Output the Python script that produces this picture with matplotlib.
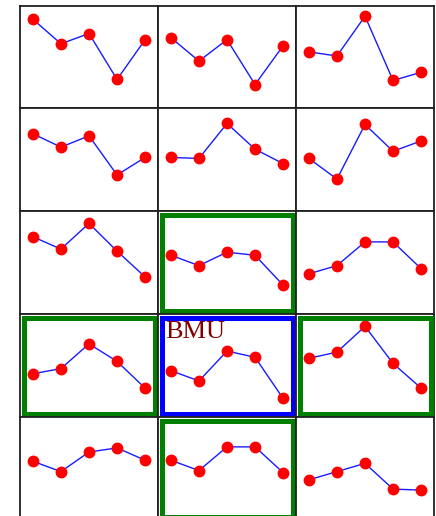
import matplotlib
matplotlib.use("Agg")
import matplotlib.pyplot as plt
from matplotlib.patches import Rectangle

# weight vectors of the 3x5 map nodes, row by row
row0 = [[0.87, 0.63, 0.73, 0.28, 0.67],
        [0.69, 0.46, 0.67, 0.23, 0.61],
        [0.55, 0.51, 0.90, 0.27, 0.35]]
row1 = [[0.75, 0.62, 0.73, 0.35, 0.52],
        [0.52, 0.51, 0.85, 0.60, 0.46],
        [0.51, 0.31, 0.84, 0.58, 0.68]]
row2 = [[0.75, 0.63, 0.88, 0.61, 0.36],
        [0.57, 0.47, 0.60, 0.57, 0.28],
        [0.39, 0.47, 0.70, 0.70, 0.44]]
row3 = [[0.42, 0.47, 0.71, 0.54, 0.28],
        [0.45, 0.35, 0.64, 0.58, 0.18],
        [0.57, 0.63, 0.88, 0.52, 0.28]]
row4 = [[0.57, 0.47, 0.66, 0.70, 0.58],
        [0.58, 0.48, 0.71, 0.71, 0.46],
        [0.39, 0.47, 0.55, 0.30, 0.29]]
nodes = [row0, row1, row2, row3, row4]

bmu = (3, 1)
neighbours = [(2, 1), (3, 0), (3, 2), (4, 1)]

W, H = 436, 516
col_left = [20, 158, 296, 434]
row_top = [6, 108, 211, 314, 417, 520]

fig = plt.figure(figsize=(W / 100, H / 100), dpi=100)

for r in range(5):
    for c in range(3):
        x0, x1 = col_left[c], col_left[c + 1]
        y0, y1 = row_top[r], row_top[r + 1]
        ax = fig.add_axes([x0 / W, 1 - y1 / H, (x1 - x0) / W, (y1 - y0) / H])
        vals = nodes[r][c]
        ax.plot(range(len(vals)), vals, color="#1a1aff", lw=1.0, zorder=2)
        ax.plot(range(len(vals)), vals, "o", color="red", ms=7.5, mec="red", zorder=3)
        ax.set_xlim(-0.46, 4.46)
        ax.set_ylim(0, 1)
        ax.set_xticks([])
        ax.set_yticks([])
        for s in ax.spines.values():
            s.set_linewidth(1.3)
            s.set_color("#202020")

        edge = None
        if (r, c) == bmu:
            edge = "#0000ff"
        elif (r, c) in neighbours:
            edge = "#007f00"
        if edge:
            dx = 3.5 / (x1 - x0)
            dy = 3.5 / (y1 - y0)
            ax.add_patch(Rectangle((dx, dy), 1 - 2 * dx, 1 - 2 * dy,
                                   transform=ax.transAxes, fill=False,
                                   ec=edge, lw=3.6, clip_on=False, zorder=4))
        if (r, c) == bmu:
            ax.text(0.05, 0.93, "BMU", transform=ax.transAxes,
                    ha="left", va="top", color="#800000",
                    family="Liberation Serif", fontsize=19, zorder=5)

fig.savefig("out.png", dpi=100)
